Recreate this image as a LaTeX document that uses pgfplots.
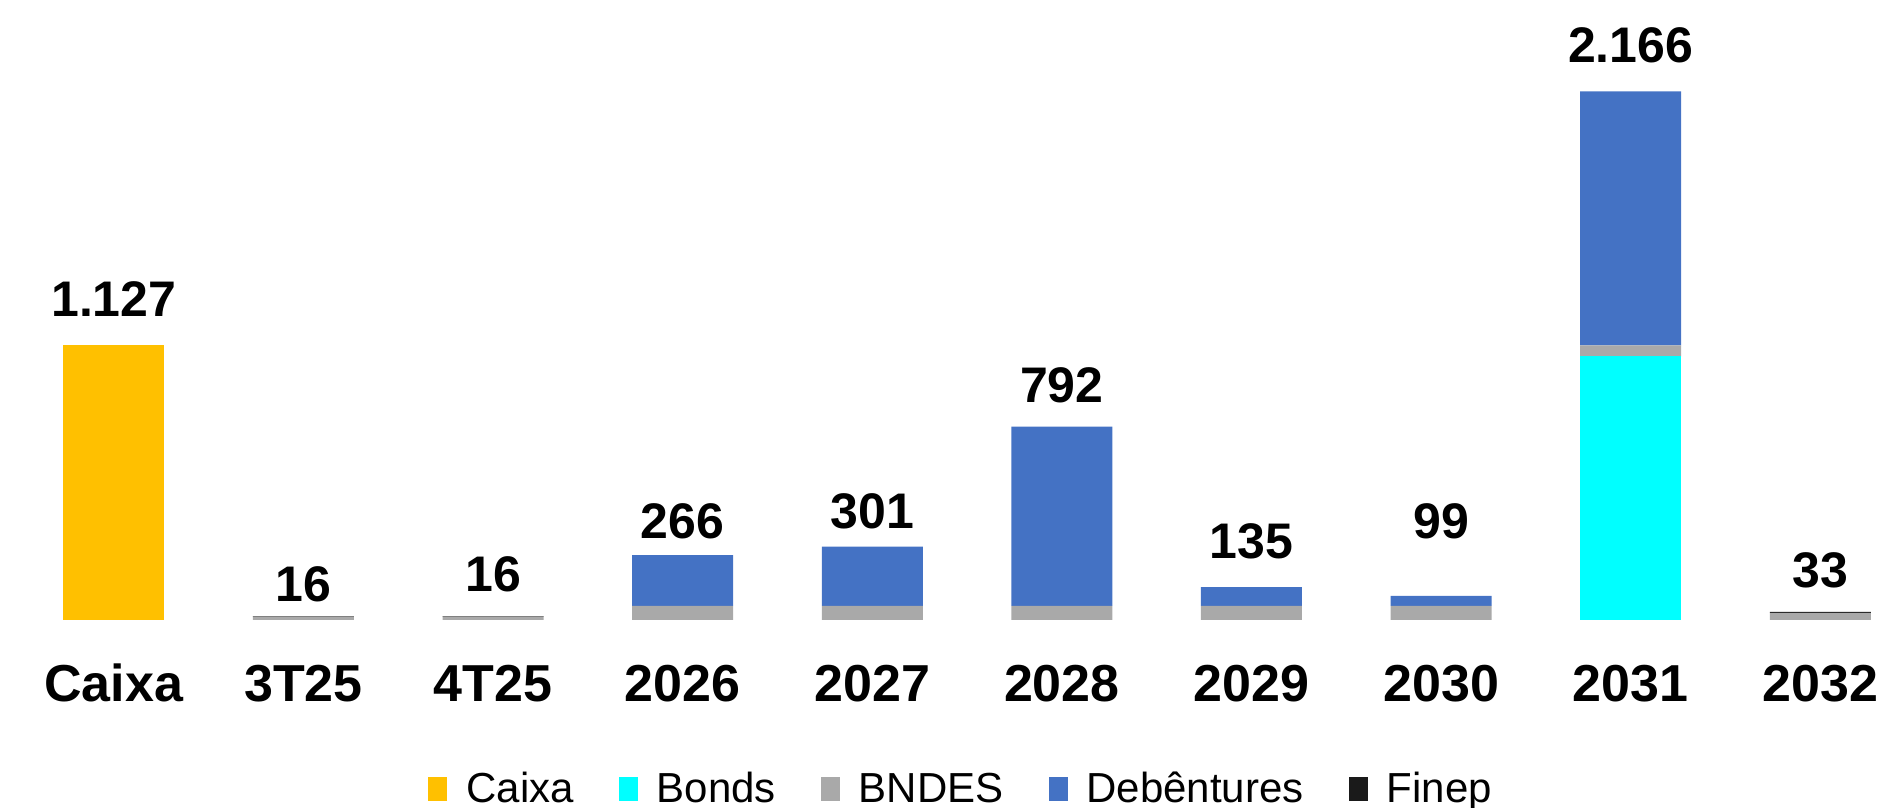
\documentclass[border=0pt]{standalone}
\usepackage{fontspec}
\setmainfont{Liberation Sans}
\usepackage{pgfplots}
\pgfplotsset{compat=1.18}
\definecolor{cCaixa}{HTML}{FFC000}
\definecolor{cBonds}{HTML}{00FFFF}
\definecolor{cBNDES}{HTML}{A9A9A9}
\definecolor{cDeb}{HTML}{4472C4}
\definecolor{cFinep}{HTML}{1A1A1A}
\pgfplotsset{
  base/.style={
    width=940.5pt, height=404pt, scale only axis,
    xmin=-0.6, xmax=9.32, ymin=-770.5, ymax=2541,
    hide axis, clip=false,
  }
}
\begin{document}
\begin{tikzpicture}
\begin{axis}[base, name=ax,
  ybar stacked, bar width=50.5pt,
  legend columns=5,
  legend image code/.code={\fill[#1,draw=none] (0pt,-6pt) rectangle (9.5pt,6pt);},
  legend style={at={(0.5104,0.0235)}, anchor=center, draw=none, fill=none,
    inner sep=0pt, font=\fontsize{21}{25}\selectfont,
    nodes={inner sep=0pt},
    /tikz/every odd column/.append style={column sep=9.5pt},
    /tikz/every even column/.append style={column sep=22.5pt}},
]
\addplot[fill=cCaixa, draw=none] coordinates {(0,1127) (1,0) (2,0) (3,0) (4,0) (5,0) (6,0) (7,0) (8,0) (9,0)};
\addplot[fill=cBonds, draw=none] coordinates {(0,0) (1,0) (2,0) (3,0) (4,0) (5,0) (6,0) (7,0) (8,1080) (9,0)};
\addplot[fill=cBNDES, draw=none] coordinates {(0,0) (1,14) (2,14) (3,58) (4,58) (5,58) (6,58) (7,58) (8,45) (9,29)};
\addplot[fill=cDeb, draw=none] coordinates {(0,0) (1,0) (2,0) (3,208) (4,243) (5,734) (6,77) (7,41) (8,1041) (9,0)};
\addplot[fill=cFinep, draw=none] coordinates {(0,0) (1,2) (2,2) (3,0) (4,0) (5,0) (6,0) (7,0) (8,0) (9,4)};
\legend{Caixa, Bonds, BNDES, Debêntures, Finep}
\end{axis}
\begin{axis}[base,
  every node near coord/.append style={anchor=base, inner sep=0pt, text=black},
]
\addplot[draw=none, mark=none, nodes near coords, point meta=explicit symbolic,
  every node near coord/.append style={font=\fontsize{25}{30}\selectfont\bfseries}]
  coordinates {(0,1242) [1.127] (1,74) [16] (2,115) [16] (3,332) [266] (4,373) [301]
    (5,893) [792] (6,250) [135] (7,332) [99] (8,2283) [2.166] (9,135) [33]};
\addplot[draw=none, mark=none, nodes near coords, point meta=explicit symbolic,
  every node near coord/.append style={font=\fontsize{26}{31}\selectfont\bfseries}]
  coordinates {(0,-336) [Caixa] (1,-336) [3T25] (2,-336) [4T25] (3,-336) [2026] (4,-336) [2027]
    (5,-336) [2028] (6,-336) [2029] (7,-336) [2030] (8,-336) [2031] (9,-336) [2032]};
\end{axis}
\pgfresetboundingbox
\useasboundingbox (ax.south west) rectangle (ax.north east);
\end{tikzpicture}
\end{document}
